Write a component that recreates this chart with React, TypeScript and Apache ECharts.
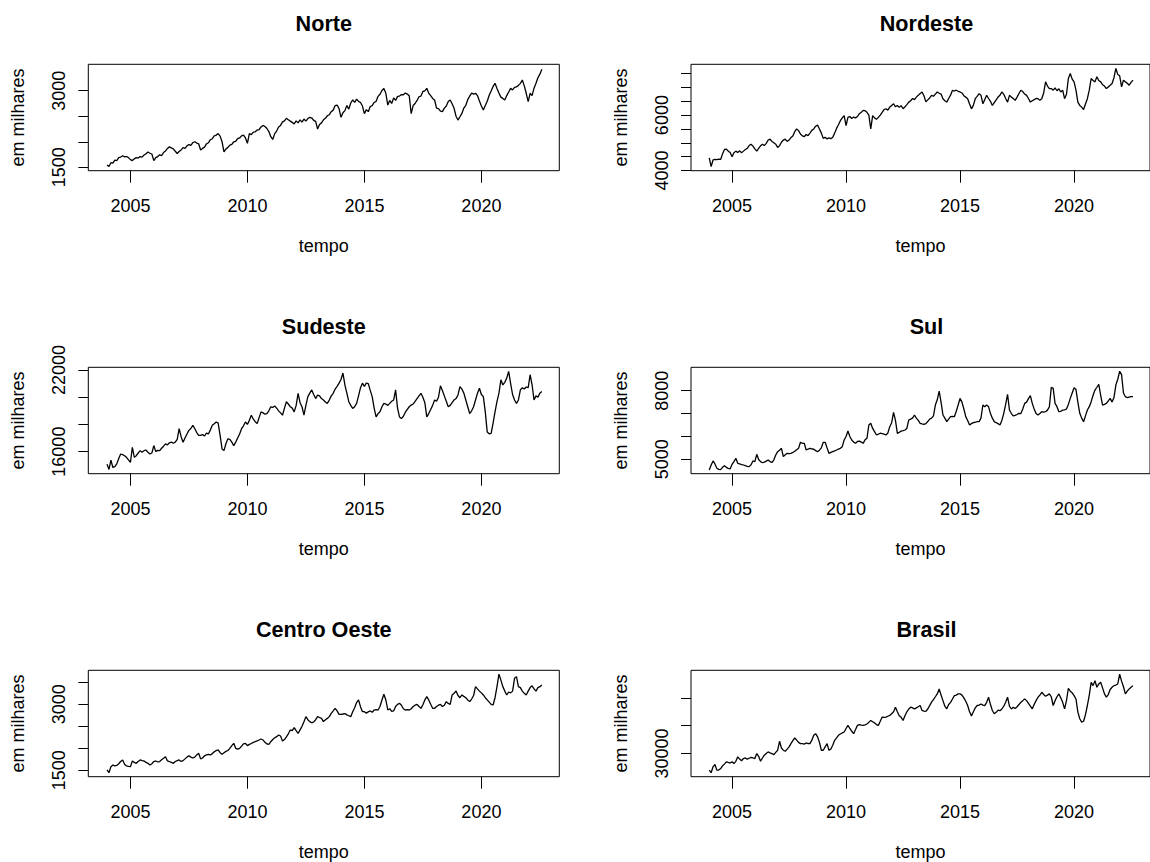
import React, { useEffect, useRef } from 'react';
import * as echarts from 'echarts';

const START_YEAR = 2004;
const xTicks = [2005, 2010, 2015, 2020];

const norte = [
  1545, 1515, 1590, 1580, 1640, 1630, 1690, 1700, 1725, 1705, 1712, 1690,
  1650, 1632, 1665, 1690, 1680, 1710, 1700, 1740, 1765, 1800, 1775, 1760,
  1630, 1690, 1710, 1745, 1730, 1790, 1820, 1870, 1900, 1880, 1860, 1815,
  1770, 1810, 1840, 1885, 1870, 1920, 1945, 1930, 1985, 2000, 1975, 1960,
  1840, 1870, 1895, 1960, 1980, 2040, 2060, 2115, 2130, 2160, 2110, 2000,
  1800, 1860, 1890, 1935, 1950, 2000, 2010, 2060, 2075, 2115, 2130, 2075,
  1970, 2160, 2140, 2190, 2195, 2230, 2240, 2290, 2320, 2300, 2260, 2200,
  2100, 2045, 2160, 2210, 2290, 2320, 2390, 2410, 2460, 2430, 2405, 2380,
  2350, 2410, 2370, 2430, 2385, 2445, 2405, 2455, 2480, 2465, 2420, 2400,
  2250, 2340, 2370, 2430, 2460, 2510, 2530, 2590, 2620, 2710, 2720, 2650,
  2480, 2570, 2610, 2710, 2640, 2760, 2820, 2770, 2835, 2790, 2770, 2700,
  2550, 2630, 2590, 2690, 2710, 2770, 2790, 2890, 2930, 3005, 3045, 2950,
  2720, 2810, 2750, 2860, 2810, 2890, 2895, 2925, 2920, 2955, 2935, 2900,
  2550, 2710, 2750, 2810, 2882, 2895, 2985, 2995, 3047, 2950, 2905, 2850,
  2818, 2660, 2650, 2600, 2590, 2660, 2700, 2790, 2818, 2745, 2655, 2500,
  2425, 2490, 2555, 2660, 2715, 2825, 2895, 2955, 2935, 2950, 2905, 2800,
  2700, 2622, 2710, 2795, 2910, 2995, 3085, 3145, 3045, 2955, 2875, 2850,
  2818, 2905, 2975, 3047, 3015, 3065, 3075, 3105, 3145, 3210, 3095, 2950,
  2785, 2950, 2905, 3050, 3145, 3255, 3325, 3420,
];

const nordeste = [
  4460, 4140, 4380, 4400, 4390, 4410, 4400, 4600, 4760, 4770, 4700, 4650,
  4500, 4640, 4700, 4650, 4710, 4640, 4700, 4760, 4800, 4900, 4950, 4880,
  4780, 4700, 4800, 4890, 4950, 4900, 4980, 5100, 5130, 5050, 5000, 4950,
  4830, 4900, 5020, 5100, 5130, 5050, 5100, 5190, 5250, 5400, 5500, 5440,
  5320, 5250, 5220, 5300, 5260, 5350, 5450, 5500, 5600, 5640, 5500, 5350,
  5160, 5200, 5140, 5180, 5150, 5200, 5350, 5520, 5650, 5800, 5900, 5980,
  5620, 5920, 5950, 5880, 5930, 5900, 5950, 6050, 6100, 6170, 6160, 6100,
  6000, 5500, 5980, 5900, 5850, 5920, 6000, 6100, 6200, 6230, 6180, 6290,
  6350, 6410, 6300, 6350, 6280, 6340, 6230, 6300, 6380, 6470, 6520, 6600,
  6560, 6650, 6714, 6780, 6836, 6700, 6480, 6550, 6620, 6714, 6680, 6760,
  6836, 6790, 6760, 6592, 6520, 6471, 6600, 6720, 6897, 6870, 6900, 6860,
  6836, 6800, 6700, 6650, 6592, 6400, 6227, 6350, 6592, 6680, 6775, 6720,
  6410, 6560, 6714, 6600, 6500, 6349, 6450, 6550, 6653, 6720, 6836, 6750,
  6600, 6471, 6714, 6650, 6600, 6531, 6650, 6780, 6897, 6850, 6760, 6714,
  6600, 6471, 6520, 6560, 6600, 6592, 6540, 6592, 6800, 7201, 7050, 6958,
  6958, 6900, 6980, 6880, 6950, 6836, 6900, 6592, 6750, 7323, 7506, 7300,
  7201, 6900, 6471, 6350, 6288, 6200, 6400, 6592, 6900, 7323, 7250, 7201,
  7384, 7250, 7201, 7100, 7050, 6958, 7019, 7080, 7140, 7350, 7689, 7469,
  7420, 7019, 7262, 7201, 7150, 7080, 7180, 7262,
];

const sudeste = [
  15082, 14690, 15380, 14835, 14900, 15100, 15500, 15826, 15780, 15700, 15580, 15400,
  15206, 16322, 15578, 15700, 15900, 16074, 15950, 16074, 16120, 15950, 15826, 15900,
  16446, 16000, 16100, 16074, 16250, 16400, 16570, 16500, 16650, 16694, 16620, 16694,
  16900, 17686, 17100, 16694, 17000, 17300, 17562, 17700, 17934, 17700, 17400, 17190,
  17190, 17250, 17150, 17364, 17300, 17600, 17934, 18050, 18182, 18100, 17200, 16200,
  16074, 16600, 16942, 16900, 16700, 16446, 16700, 17000, 17300, 17686, 17900, 18182,
  18000, 18300, 18678, 18400, 18200, 18058, 18500, 18926, 18850, 18750, 18802, 19000,
  19298, 19250, 19350, 19200, 19000, 18850, 18678, 19200, 19670, 19500, 19300, 19200,
  18926, 19400, 20290, 19600, 19300, 18678, 19400, 20042, 20300, 20538, 20200, 19900,
  20166, 20100, 19900, 19800, 19650, 19546, 19800, 20100, 20290, 20600, 20800, 21034,
  21300, 21778, 20910, 20300, 19670, 19400, 19174, 19300, 19546, 20100, 20700, 21034,
  20800, 21034, 21000, 20500, 20042, 19200, 18554, 18800, 18926, 19300, 19546, 19500,
  19400, 19546, 19700, 19794, 20538, 19200, 18554, 18430, 18600, 18900, 19100, 19300,
  19422, 19500, 19700, 19900, 20100, 20290, 20000, 19600, 18554, 18800, 19100, 19400,
  19800, 19700, 20000, 20836, 20500, 20100, 19700, 19298, 19400, 19600, 19800, 19900,
  20166, 20786, 20600, 20300, 19800, 19300, 18802, 19000, 19300, 19800, 20300, 20662,
  20200, 20042, 18926, 17438, 17314, 17350, 18100, 18926, 19700, 20290, 21282, 20900,
  21100, 21406, 21900, 21000, 20200, 19794, 19546, 19800, 20538, 20700, 20600, 20750,
  20700, 21654, 20900, 19794, 20100, 20000, 20300, 20414,
];

const sul = [
  4534, 4752, 4927, 4800, 4607, 4560, 4545, 4650, 4723, 4650, 4607, 4580,
  4780, 4898, 5044, 4825, 4800, 4770, 4752, 4720, 4690, 4680, 4760, 4927,
  4900, 5218, 4990, 4898, 4850, 4880, 4920, 4971, 4900, 4860, 4980, 5189,
  5335, 5400, 5480, 5116, 5200, 5262, 5250, 5262, 5300, 5350, 5420, 5480,
  5743, 5700, 5700, 5408, 5450, 5480, 5460, 5440, 5380, 5335, 5400, 5500,
  5743, 5743, 5500, 5262, 5300, 5335, 5370, 5408, 5450, 5480, 5553, 5844,
  6000, 6238, 6000, 5844, 5750, 5699, 5780, 5800, 5750, 5699, 5850, 5917,
  6500, 6572, 6350, 6208, 6063, 6100, 6140, 6120, 6100, 6063, 6150, 6427,
  6600, 7053, 6700, 6136, 6180, 6230, 6250, 6281, 6350, 6718, 6760, 6800,
  6936, 6800, 6700, 6572, 6550, 6529, 6560, 6650, 6760, 6800, 6900, 7373,
  7600, 7985, 7500, 6936, 6800, 6645, 6760, 6864, 6880, 6864, 7100, 7373,
  7664, 7500, 7200, 6864, 6700, 6500, 6560, 6600, 6620, 6645, 6645, 6800,
  7373, 7300, 7373, 7300, 7000, 6800, 6645, 6600, 6560, 6500, 6700, 7009,
  7400, 7839, 7155, 7000, 6900, 6920, 6960, 7009, 7000, 7200, 7446, 7500,
  7650, 7781, 7446, 7200, 7000, 6936, 7000, 7082, 7060, 7082, 7150, 7300,
  8145, 8100, 7446, 7300, 7082, 7100, 7150, 7160, 7200, 7400, 7664, 7900,
  8130, 8050, 7500, 7009, 6800, 6645, 6900, 7155, 7300, 7519, 7800, 8028,
  8150, 8276, 7800, 7373, 7400, 7446, 7550, 7664, 7500, 7700, 8247, 8500,
  8850, 8700, 7900, 7737, 7700, 7720, 7740, 7737,
];

const centroOeste = [
  1508, 1445, 1583, 1621, 1600, 1610, 1650, 1700, 1735, 1640, 1600, 1590,
  1583, 1712, 1680, 1659, 1700, 1735, 1720, 1712, 1680, 1659, 1621, 1650,
  1700, 1712, 1690, 1700, 1740, 1773, 1810, 1712, 1700, 1680, 1659, 1700,
  1720, 1735, 1700, 1720, 1760, 1800, 1833, 1800, 1780, 1800, 1850, 1886,
  1760, 1780, 1830, 1850, 1864, 1850, 1880, 1920, 1950, 1962, 1900, 1864,
  1900, 1930, 1950, 2000, 2060, 2114, 2000, 1980, 2000, 2050, 2100, 2114,
  2061, 2090, 2110, 2136, 2150, 2167, 2190, 2212, 2190, 2136, 2100, 2091,
  2150, 2200, 2240, 2265, 2303, 2280, 2167, 2200, 2260, 2330, 2417, 2400,
  2470, 2400, 2341, 2420, 2500, 2606, 2720, 2650, 2606, 2580, 2600, 2650,
  2720, 2700, 2680, 2606, 2650, 2680, 2720, 2795, 2850, 2909, 2850, 2773,
  2773, 2780, 2790, 2760, 2740, 2720, 2830, 2920, 3040, 3099, 2947, 2833,
  2833, 2800, 2830, 2850, 2820, 2870, 2880, 2870, 2950, 3099, 3227, 3100,
  2871, 2900, 2840, 2850, 2950, 3000, 3023, 2980, 2900, 2871, 2880, 2871,
  2900, 2950, 2980, 3000, 2950, 2909, 2990, 3100, 3174, 3100, 3000, 2909,
  2909, 2950, 2980, 3000, 2950, 2980, 3061, 3020, 3000, 3212, 3250, 3303,
  3200, 3150, 3212, 3180, 3150, 3100, 3061, 3120, 3200, 3402, 3350, 3300,
  3260, 3212, 3150, 3100, 3050, 3000, 2985, 3150, 3400, 3684, 3550, 3402,
  3300, 3212, 3280, 3260, 3300, 3591, 3629, 3402, 3380, 3300, 3250, 3212,
  3300, 3380, 3420, 3350, 3300, 3380, 3400, 3439,
];

const brasil = [
  27025, 26560, 27620, 28036, 27025, 27025, 27300, 27800, 28100, 28512, 28400, 28300,
  28512, 28200, 28600, 29405, 29000, 28700, 29108, 29200, 29000, 29150, 29300, 29200,
  29108, 30000, 29500, 28632, 29200, 29700, 30000, 30297, 30100, 30000, 29800, 30200,
  30595, 32200, 31000, 30600, 30416, 30800, 31200, 31785, 32300, 32797, 32400, 32000,
  31785, 31785, 31700, 31900, 31800, 31785, 32400, 33272, 33570, 33000, 32000, 30595,
  30595, 31200, 31785, 30595, 30800, 31500, 32380, 32800, 33272, 33500, 33700, 33868,
  34500, 35057, 34500, 34000, 33570, 34300, 35057, 35200, 35100, 35057, 35150, 35300,
  35600, 35950, 35700, 35500, 35200, 35057, 35800, 36545, 36500, 36545, 36700, 36843,
  37140, 37500, 38330, 37500, 36800, 36500, 35950, 36800, 37500, 38000, 38330, 38200,
  38000, 38200, 38400, 38628, 37735, 37600, 37557, 38000, 38600, 39223, 39700, 40200,
  40710, 41603, 40500, 39500, 38500, 38033, 38800, 39200, 39800, 40413, 40500, 40710,
  40710, 40500, 40000, 39400, 38628, 37500, 36724, 37500, 38200, 38628, 38700, 38900,
  38700, 38600, 39200, 40115, 38800, 37735, 37140, 37400, 37800, 37700, 38000, 38500,
  39200, 40115, 38500, 38000, 38300, 38100, 38400, 38800, 39200, 39500, 39818, 39500,
  39000, 38500, 38033, 38800, 39500, 40115, 40500, 41008, 40600, 40300, 40500, 40710,
  40200, 38628, 39500, 40200, 40710, 40000, 39200, 38033, 39500, 41723, 41200, 40900,
  40413, 39800, 37438, 36248, 35653, 35800, 37000, 38628, 40500, 42793, 42200, 43090,
  41900, 42500, 42793, 41800, 40710, 40115, 40600, 41500, 41900, 42198, 42300, 42500,
  44242, 43000, 42000, 40710, 41200, 41600, 41900, 42198,
];

const norteTicks = [1500, 2000, 2500, 3000];
const norteLabels = [1500, 3000];
const nordesteTicks = [4000, 4500, 5000, 5500, 6000, 6500, 7000, 7500];
const nordesteLabels = [4000, 6000];
const sudesteTicks = [16000, 18000, 20000, 22000];
const sudesteLabels = [16000, 22000];
const sulTicks = [5000, 6000, 7000, 8000];
const sulLabels = [5000, 8000];
const coTicks = [1500, 2000, 2500, 3000, 3500];
const coLabels = [1500, 3000];
const brasilTicks = [30000, 35000, 40000];
const brasilLabels = [30000];

const panels = [
  { title: 'Norte', data: norte, yMin: 1433, yMax: 3518, ticks: norteTicks, labels: norteLabels },
  { title: 'Nordeste', data: nordeste, yMin: 3993, yMax: 7835, ticks: nordesteTicks, labels: nordesteLabels },
  { title: 'Sudeste', data: sudeste, yMin: 14378, yMax: 22200, ticks: sudesteTicks, labels: sudesteLabels },
  { title: 'Sul', data: sul, yMin: 4371, yMax: 9022, ticks: sulTicks, labels: sulLabels },
  { title: 'Centro Oeste', data: centroOeste, yMin: 1355, yMax: 3773, ticks: coTicks, labels: coLabels },
  { title: 'Brasil', data: brasil, yMin: 25840, yMax: 44950, ticks: brasilTicks, labels: brasilLabels },
];

const FONT = "'Liberation Sans', Arial, Helvetica, sans-serif";

export default function App() {
  const ref = useRef<HTMLDivElement>(null);
  useEffect(() => {
    const chart = echarts.init(ref.current as HTMLDivElement, null, { renderer: 'svg' });
    const colLeft = [88.3, 691];
    const rowTop = [64.3, 367.3, 670.3];
    const W = 471;
    const H = 106.4;
    const grid: any[] = [];
    const xAxis: any[] = [];
    const yAxis: any[] = [];
    const series: any[] = [];
    const graphic: any[] = [];
    const txt = { color: '#000', fontSize: 18, fontFamily: FONT };
    panels.forEach((p, i) => {
      const col = i % 2;
      const row = Math.floor(i / 2);
      grid.push({
        left: colLeft[col], top: rowTop[row], width: W, height: H,
        show: true, borderColor: '#000', borderWidth: 1, backgroundColor: 'transparent',
      });
      xAxis.push({
        type: 'value', gridIndex: i, min: 2003.2, max: 2023.33,
        axisLine: { show: false }, splitLine: { show: false },
        axisTick: { show: true, inside: false, length: 12, lineStyle: { color: '#000', width: 1 }, customValues: xTicks },
        axisLabel: { ...txt, customValues: xTicks, margin: 26, formatter: (v: number) => String(Math.round(v)) },
        name: 'tempo', nameLocation: 'middle', nameGap: 66, nameTextStyle: { ...txt },
      });
      yAxis.push({
        type: 'value', gridIndex: i, min: p.yMin, max: p.yMax,
        axisLine: { show: false }, splitLine: { show: false },
        axisTick: { show: true, inside: false, length: 10, lineStyle: { color: '#000', width: 1 }, customValues: p.ticks },
        axisLabel: { ...txt, customValues: p.labels, rotate: 90, margin: 20, formatter: (v: number) => String(Math.round(v)) },
        name: 'em milhares', nameLocation: 'middle', nameRotate: 90, nameGap: 61, nameTextStyle: { ...txt },
      });
      series.push({
        type: 'line', xAxisIndex: i, yAxisIndex: i,
        data: p.data.map((v, k) => [START_YEAR + k / 12, v]),
        showSymbol: false, symbol: 'none', silent: true,
        lineStyle: { color: '#000', width: 1.3 }, itemStyle: { color: '#000' },
      });
      graphic.push({
        type: 'text', x: colLeft[col] + W / 2, y: rowTop[row] - 41.1, silent: true,
        style: {
          text: p.title, font: `bold 21.6px ${FONT}`, fill: '#000',
          textAlign: 'center', textVerticalAlign: 'middle', align: 'center', verticalAlign: 'middle',
        },
      });
    });
    chart.setOption({ animation: false, backgroundColor: '#fff', grid, xAxis, yAxis, series, graphic });
    return () => chart.dispose();
  }, []);
  return (
    <div
      ref={ref}
      style={{ position: 'absolute', left: 0, top: 0, width: 1150, height: 862, background: '#fff', overflow: 'hidden' }}
    />
  );
}
